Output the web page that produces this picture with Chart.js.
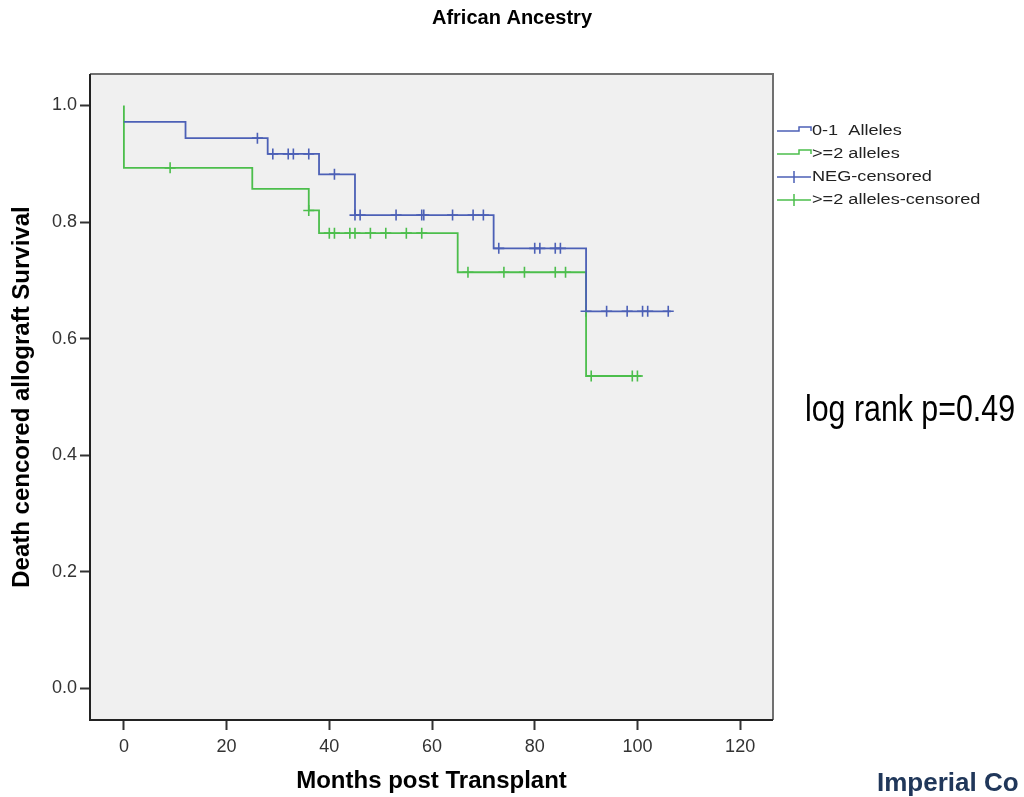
<!DOCTYPE html>
<html>
<head>
<meta charset="utf-8">
<script src="https://cdn.jsdelivr.net/npm/chart.js@4.4.1/dist/chart.umd.min.js"></script>
<style>
  html, body { margin: 0; padding: 0; background: #fff; }
  #wrap { position: relative; width: 1024px; height: 797px; }
</style>
</head>
<body>
<div id="wrap"><canvas id="km"></canvas></div>
<script>
// step curves: time of each step and survival level after it
const lowTimes = [0, 12, 28, 38, 45, 72, 90, 106.5];
const lowSurv = [0.972, 0.944, 0.917, 0.882, 0.812, 0.755, 0.647, 0.647];
const highTimes = [0, 0, 25, 36, 38, 65, 90, 100.8];
const highSurv = [1, 0.893, 0.857, 0.82, 0.781, 0.714, 0.536, 0.536];

// censored marks
const lowCensTimes = [26, 29, 32, 33, 36, 41, 45, 46, 53, 58, 58.4, 64, 68, 70, 73, 80, 81, 84, 85, 90, 94, 98, 101, 102, 106];
const lowCensSurv = [0.944, 0.917, 0.917, 0.917, 0.917, 0.882, 0.812, 0.812, 0.812, 0.812, 0.812, 0.812, 0.812, 0.812,
  0.755, 0.755, 0.755, 0.755, 0.755, 0.647, 0.647, 0.647, 0.647, 0.647, 0.647];
const highCensTimes = [9, 36, 40, 41, 44, 45, 48, 51, 55, 58, 67, 74, 78, 84, 86, 91, 99, 100];
const highCensSurv = [0.893, 0.82, 0.781, 0.781, 0.781, 0.781, 0.781, 0.781, 0.781, 0.781,
  0.714, 0.714, 0.714, 0.714, 0.714, 0.536, 0.536, 0.536];

const seriesNames = ['0-1  Alleles', '>=2 alleles', 'NEG-censored', '>=2 alleles-censored'];
const xTicks = [0, 20, 40, 60, 80, 100, 120];
const yTicks = [0, 0.2, 0.4, 0.6, 0.8, 1.0];

const BLUE = 'rgb(76, 96, 182)';
const GREEN = 'rgb(76, 190, 76)';
const SANS = "'Liberation Sans', Arial, sans-serif";

const toPts = (xs, ys) => xs.map((x, i) => ({ x: x, y: ys[i] }));

// plot box: grey fill behind, frame on top
const plotBox = {
  id: 'plotBox',
  beforeDatasetsDraw(chart) {
    const { ctx, chartArea: a } = chart;
    ctx.save();
    ctx.fillStyle = '#f0f0f0';
    ctx.fillRect(a.left, a.top, a.right - a.left, a.bottom - a.top);
    ctx.restore();
  },
  afterDatasetsDraw(chart) {
    const { ctx, chartArea: a } = chart;
    ctx.save();
    ctx.lineWidth = 2;
    ctx.strokeStyle = '#707070';
    ctx.beginPath();
    ctx.moveTo(a.left, a.top);
    ctx.lineTo(a.right, a.top);
    ctx.lineTo(a.right, a.bottom);
    ctx.stroke();
    ctx.strokeStyle = '#222';
    ctx.beginPath();
    ctx.moveTo(a.left, a.top);
    ctx.lineTo(a.left, a.bottom);
    ctx.lineTo(a.right, a.bottom);
    ctx.stroke();
    ctx.restore();
  },
};

// text squeezed or stretched sideways (the source fonts are narrow)
function wideText(ctx, text, x, y, font, sx) {
  ctx.save();
  ctx.font = font;
  ctx.translate(x, y);
  ctx.scale(sx, 1);
  ctx.fillText(text, 0, 0);
  ctx.restore();
}

// SPSS style legend to the right of the box, plus the slide notes
const sideNotes = {
  id: 'sideNotes',
  afterDraw(chart) {
    const { ctx, chartArea: a } = chart;
    const x0 = a.right + 4;
    const rows = [131, 154, 177, 200];
    const cols = [BLUE, GREEN, BLUE, GREEN];
    ctx.save();
    ctx.lineWidth = 1.5;
    ctx.textBaseline = 'middle';
    ctx.textAlign = 'left';
    rows.forEach((y, i) => {
      ctx.strokeStyle = cols[i];
      ctx.beginPath();
      if (i < 2) {
        ctx.moveTo(x0, y);
        ctx.lineTo(x0 + 22, y);
        ctx.lineTo(x0 + 22, y - 4);
        ctx.lineTo(x0 + 34, y - 4);
        ctx.lineTo(x0 + 34, y);
      } else {
        ctx.moveTo(x0, y);
        ctx.lineTo(x0 + 34, y);
        ctx.moveTo(x0 + 17, y - 6);
        ctx.lineTo(x0 + 17, y + 6);
      }
      ctx.stroke();
      ctx.fillStyle = '#222';
      wideText(ctx, seriesNames[i], x0 + 35, y, '15.5px ' + SANS, 1.17);
    });

    ctx.fillStyle = '#000';
    wideText(ctx, 'log rank p=0.49', 805, 411, '37px ' + SANS, 0.82);

    ctx.fillStyle = '#20375a';
    ctx.font = 'bold 26px ' + SANS;
    ctx.fillText('Imperial Co', 877, 784);
    ctx.restore();
  },
};

new Chart(document.getElementById('km'), {
  type: 'line',
  data: {
    datasets: [
      {
        label: seriesNames[0],
        data: toPts(lowTimes, lowSurv),
        borderColor: BLUE,
        borderWidth: 1.8,
        stepped: 'before',
        pointRadius: 0,
        fill: false,
      },
      {
        label: seriesNames[1],
        data: toPts(highTimes, highSurv),
        borderColor: GREEN,
        borderWidth: 1.8,
        stepped: 'before',
        pointRadius: 0,
        fill: false,
      },
      {
        label: seriesNames[2],
        data: toPts(lowCensTimes, lowCensSurv),
        showLine: false,
        pointStyle: 'cross',
        pointRadius: 5.5,
        pointBorderWidth: 1.6,
        pointBorderColor: BLUE,
        borderColor: BLUE,
      },
      {
        label: seriesNames[3],
        data: toPts(highCensTimes, highCensSurv),
        showLine: false,
        pointStyle: 'cross',
        pointRadius: 5.5,
        pointBorderWidth: 1.6,
        pointBorderColor: GREEN,
        borderColor: GREEN,
      },
    ],
  },
  options: {
    responsive: true,
    maintainAspectRatio: false,
    animation: false,
    events: [],
    layout: { padding: 0 },
    plugins: {
      legend: { display: false },
      tooltip: { enabled: false },
      title: {
        display: true,
        text: 'African Ancestry',
        color: '#000',
        font: { family: SANS, size: 20, weight: 'bold' },
        padding: { top: 6, bottom: 44 },
      },
    },
    scales: {
      x: {
        type: 'linear',
        min: -6.6,
        max: 126.4,
        afterFit: (scale) => { scale.height = 77; },
        afterBuildTicks: (scale) => { scale.ticks = xTicks.map((v) => ({ value: v })); },
        ticks: {
          color: '#333',
          padding: 6,
          font: { family: SANS, size: 18 },
          callback: (v) => v,
        },
        grid: { drawOnChartArea: false, drawTicks: true, tickLength: 10, tickColor: '#333', tickWidth: 2 },
        border: { display: false },
        title: {
          display: true,
          text: 'Months post Transplant',
          color: '#000',
          font: { family: SANS, size: 24, weight: 'bold' },
          padding: { top: 0, bottom: 1 },
        },
      },
      y: {
        type: 'linear',
        min: -0.054,
        max: 1.054,
        afterFit: (scale) => { scale.width = 90; },
        afterBuildTicks: (scale) => { scale.ticks = yTicks.map((v) => ({ value: v })); },
        ticks: {
          color: '#333',
          padding: 3,
          font: { family: SANS, size: 18 },
          callback: (v) => Number(v).toFixed(1),
        },
        grid: { drawOnChartArea: false, drawTicks: true, tickLength: 10, tickColor: '#333', tickWidth: 2 },
        border: { display: false },
        title: {
          display: true,
          text: 'Death cencored allograft Survival',
          color: '#000',
          font: { family: SANS, size: 24, weight: 'bold' },
          padding: { top: 8, bottom: 0 },
        },
      },
      // empty strip on the right that keeps room for the legend
      side: {
        type: 'linear',
        position: 'right',
        display: true,
        afterFit: (scale) => { scale.width = 251; },
        ticks: { display: false },
        grid: { display: false },
        border: { display: false },
      },
    },
  },
  plugins: [plotBox, sideNotes],
});
</script>
</body>
</html>
